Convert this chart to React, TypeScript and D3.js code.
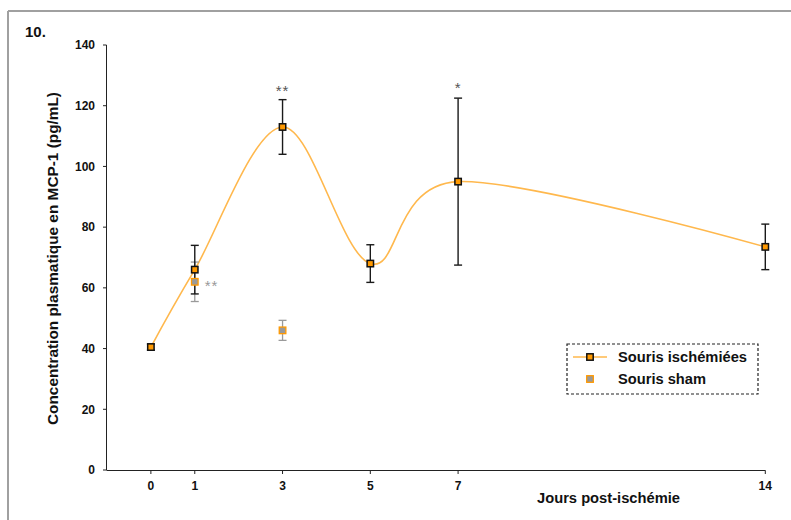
import React from "react";
import * as d3 from "d3";

const days = [0, 1, 3, 5, 7, 14];
const ischemicMean = [40.5, 66, 113, 68, 95, 73.5];
const ischemicErr = [1, 8, 9, 6.2, 27.5, 7.5];
const shamDays = [1, 3];
const shamMean = [62, 46];
const shamErr = [6.5, 3.3];
const yTicks = [0, 20, 40, 60, 80, 100, 120, 140];
const xTicks = [0, 1, 3, 5, 7, 14];
const starDays = [3, 7, 1];
const starValues = [122, 123, 62];
const starTexts = ["**", "*", "**"];
const starGroups = ["isch", "isch", "sham"];
const legendLabels = ["Souris ischémiées", "Souris sham"];

const W = 791;
const H = 520;
const FONT = "'Liberation Sans', Arial, sans-serif";

export default function App() {
  const x = d3.scaleLinear().domain([-1, 14]).range([107, 765.3]);
  const y = d3.scaleLinear().domain([0, 140]).range([470, 45]);

  const pts: [number, number][] = days.map((d, i) => [x(d), y(ischemicMean[i])]);
  const line = d3.line().curve(d3.curveCardinal.tension(0))(pts) || "";

  const orange = "#FF9900";
  const lineCol = "#FFB84D";
  const capW = 4;

  return (
    <svg
      width={W}
      height={H}
      style={{ position: "absolute", left: 0, top: 0, background: "#fff" }}
      fontFamily={FONT}
    >
      <rect x={0} y={0} width={W} height={H} fill="#fff" />
      {/* frame */}
      <line x1={8} y1={11} x2={W} y2={11} stroke="#a0a0a0" strokeWidth={2} />
      <line x1={8} y1={11} x2={8} y2={H} stroke="#a0a0a0" strokeWidth={2} />
      <text x={25} y={37} fontSize={15} fontWeight="bold" fill="#111">10.</text>

      {/* y axis */}
      <line x1={106.5} y1={y(140)} x2={106.5} y2={y(0)} stroke="#222" strokeWidth={1} />
      {yTicks.map((t) => (
        <g key={"yt" + t}>
          <line x1={103} x2={106.5} y1={y(t)} y2={y(t)} stroke="#222" />
          <text x={95} y={y(t)} dy="0.36em" textAnchor="end" fontSize={12} fontWeight="bold" fill="#111">
            {t}
          </text>
        </g>
      ))}
      {/* x axis */}
      <line x1={106.5} y1={470.5} x2={765.5} y2={470.5} stroke="#222" strokeWidth={1} />
      {xTicks.map((t) => (
        <g key={"xt" + t}>
          <line x1={x(t)} x2={x(t)} y1={470.5} y2={474} stroke="#222" />
          <text x={x(t)} y={490} textAnchor="middle" fontSize={12} fontWeight="bold" fill="#111">
            {t}
          </text>
        </g>
      ))}
      <text x={537} y={503} fontSize={14} fontWeight="bold" fill="#111" textLength={143} lengthAdjust="spacingAndGlyphs">
        Jours post-ischémie
      </text>
      <text
        transform={`translate(58,${(92 + 425) / 2}) rotate(-90)`}
        textAnchor="middle"
        fontSize={14}
        fontWeight="bold"
        fill="#111"
        textLength={333}
        lengthAdjust="spacingAndGlyphs"
      >
        Concentration plasmatique en MCP-1  (pg/mL)
      </text>

      {/* curve */}
      <path d={line} fill="none" stroke={lineCol} strokeWidth={1.6} />

      {/* sham error bars & markers */}
      {shamDays.map((d, i) => {
        const cx = x(d);
        const top = y(shamMean[i] + shamErr[i]);
        const bot = y(shamMean[i] - shamErr[i]);
        return (
          <g key={"se" + i} stroke="#9a9a9a" strokeWidth={1.3}>
            <line x1={cx} x2={cx} y1={top} y2={bot} />
            <line x1={cx - capW} x2={cx + capW} y1={top} y2={top} />
            <line x1={cx - capW} x2={cx + capW} y1={bot} y2={bot} />
          </g>
        );
      })}

      {/* ischemic error bars */}
      {days.map((d, i) => {
        const cx = x(d);
        const top = y(ischemicMean[i] + ischemicErr[i]);
        const bot = y(ischemicMean[i] - ischemicErr[i]);
        return (
          <g key={"ie" + i} stroke="#1a1a1a" strokeWidth={1.4}>
            <line x1={cx} x2={cx} y1={top} y2={bot} />
            <line x1={cx - capW} x2={cx + capW} y1={top} y2={top} />
            <line x1={cx - capW} x2={cx + capW} y1={bot} y2={bot} />
          </g>
        );
      })}

      {/* sham markers */}
      {shamDays.map((d, i) => (
        <rect
          key={"sm" + i}
          x={x(d) - 3.3}
          y={y(shamMean[i]) - 3.3}
          width={6.6}
          height={6.6}
          fill="#999"
          stroke={orange}
          strokeWidth={1.3}
        />
      ))}

      {/* ischemic markers */}
      {days.map((d, i) => (
        <rect
          key={"im" + i}
          x={x(d) - 3.2}
          y={y(ischemicMean[i]) - 3.2}
          width={6.4}
          height={6.4}
          fill={orange}
          stroke="#111"
          strokeWidth={1.5}
        />
      ))}

      {/* significance stars */}
      {starDays.map((d, i) =>
        starGroups[i] === "isch" ? (
          <text
            key={"st" + i}
            x={x(d)}
            y={y(starValues[i]) - 4}
            textAnchor="middle"
            fontSize={15}
            fill="#555"
            letterSpacing={1}
          >
            {starTexts[i]}
          </text>
        ) : (
          <text key={"st" + i} x={x(d) + 10} y={y(starValues[i]) + 9} fontSize={15} fill="#999" letterSpacing={1}>
            {starTexts[i]}
          </text>
        )
      )}

      {/* legend */}
      <rect x={567} y={344} width={191} height={50} fill="#fff" stroke="#222" strokeWidth={1.2} strokeDasharray="3,2" />
      <line x1={573} x2={607} y1={357} y2={357} stroke={lineCol} strokeWidth={1.6} />
      <rect x={590 - 3.2} y={357 - 3.2} width={6.4} height={6.4} fill={orange} stroke="#111" strokeWidth={1.5} />
      <text x={618} y={362} fontSize={14} fontWeight="bold" fill="#111" textLength={129} lengthAdjust="spacingAndGlyphs">
        {legendLabels[0]}
      </text>
      <rect x={590 - 3.3} y={379 - 3.3} width={6.6} height={6.6} fill="#999" stroke={orange} strokeWidth={1.3} />
      <text x={618} y={384} fontSize={14} fontWeight="bold" fill="#111" textLength={88} lengthAdjust="spacingAndGlyphs">
        {legendLabels[1]}
      </text>
    </svg>
  );
}
